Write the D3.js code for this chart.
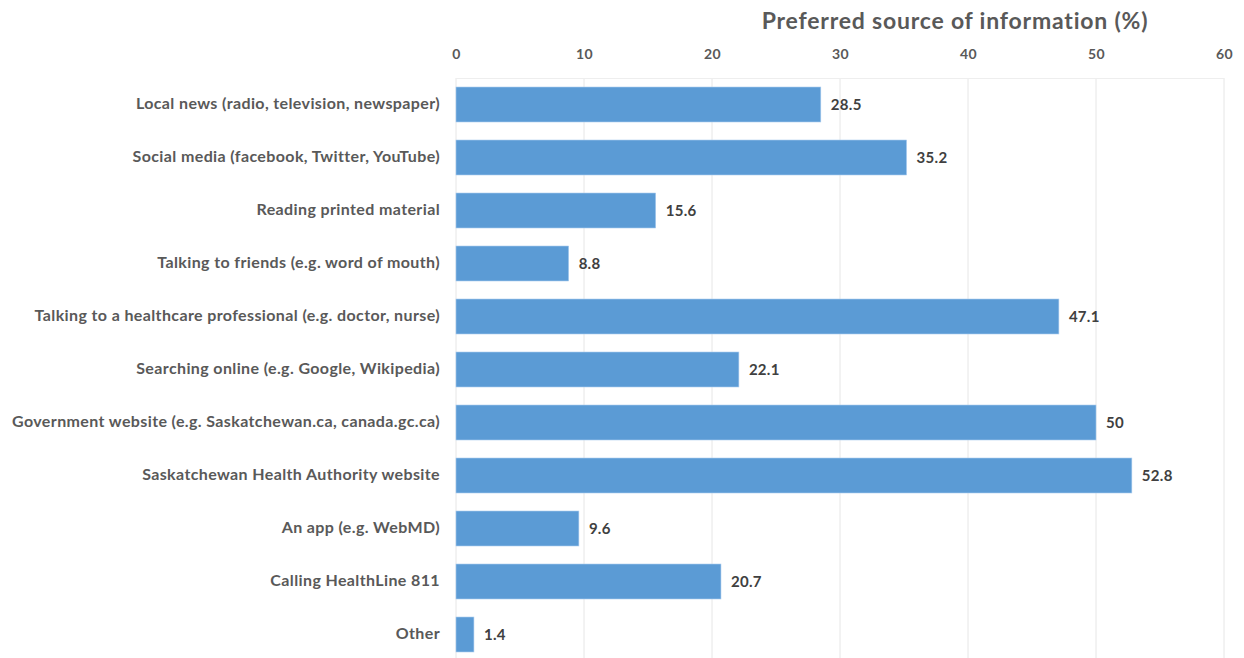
<!DOCTYPE html>
<html>
<head>
<meta charset="utf-8">
<script src="https://cdn.jsdelivr.net/npm/d3@7"></script>
<style>
  html, body { margin: 0; padding: 0; background: #fff; }
  svg { display: block; font-family: Lato, "Open Sans", sans-serif; }
</style>
</head>
<body>
<svg id="chart" width="1244" height="658"></svg>
<script>
// Survey responses: preferred source of information (%)
const categories = [
  "Local news (radio, television, newspaper)",
  "Social media (facebook, Twitter, YouTube)",
  "Reading printed material",
  "Talking to friends (e.g. word of mouth)",
  "Talking to a healthcare professional (e.g. doctor, nurse)",
  "Searching online (e.g. Google, Wikipedia)",
  "Government website (e.g. Saskatchewan.ca, canada.gc.ca)",
  "Saskatchewan Health Authority website",
  "An app (e.g. WebMD)",
  "Calling HealthLine 811",
  "Other"
];
const values = [28.5, 35.2, 15.6, 8.8, 47.1, 22.1, 50, 52.8, 9.6, 20.7, 1.4];
const tickValues = [0, 10, 20, 30, 40, 50, 60];
const axisTitle = "Preferred source of information (%)";

const svg = d3.select("#chart");
const plotLeft = 456, plotRight = 1224, plotTop = 78, plotBottom = 661;

const x = d3.scaleLinear().domain([0, 60]).range([plotLeft, plotRight]);
const y = d3.scaleBand().domain(categories).range([plotTop, plotBottom])
  .paddingInner(0.34).paddingOuter(0.17);

// vertical gridlines
svg.append("g").selectAll("line").data(tickValues).join("line")
  .attr("x1", d => x(d)).attr("x2", d => x(d))
  .attr("y1", plotTop).attr("y2", 658)
  .attr("stroke", "#e6e6e6").attr("stroke-width", 1);

svg.append("line")
  .attr("x1", plotLeft).attr("x2", plotRight).attr("y1", plotTop + 0.5).attr("y2", plotTop + 0.5)
  .attr("stroke", "#eeeeee");

// top axis
const axis = d3.axisTop(x).tickValues(tickValues).tickSize(0).tickPadding(0);
const ax = svg.append("g").attr("transform", "translate(0,59)").call(axis);
ax.select(".domain").remove();
ax.selectAll("text")
  .attr("font-family", "Lato, 'Open Sans', sans-serif")
  .attr("font-size", 14).attr("font-weight", "bold").attr("fill", "#595959")
  .attr("letter-spacing", 0.5);

// axis title
svg.append("text")
  .attr("x", 955).attr("y", 29)
  .attr("text-anchor", "middle")
  .attr("font-size", 23).attr("font-weight", "bold").attr("fill", "#595959")
  .attr("letter-spacing", 0.8)
  .text(axisTitle);

// bars
svg.append("g").selectAll("rect").data(values).join("rect")
  .attr("x", x(0))
  .attr("y", (d, i) => y(categories[i]))
  .attr("width", d => x(d) - x(0))
  .attr("height", y.bandwidth())
  .attr("fill", "#5b9bd5")
  .attr("stroke", "#a9cbee").attr("stroke-width", 0.6);

// value labels
svg.append("g").selectAll("text").data(values).join("text")
  .attr("x", d => x(d) + 10)
  .attr("y", (d, i) => y(categories[i]) + y.bandwidth() / 2)
  .attr("dy", "0.35em")
  .attr("font-size", 15).attr("font-weight", "bold").attr("fill", "#404040")
  .attr("letter-spacing", 0.3)
  .text(d => d);

// category labels
svg.append("g").selectAll("text").data(categories).join("text")
  .attr("x", 440)
  .attr("y", d => y(d) + y.bandwidth() / 2)
  .attr("dy", "0.3em")
  .attr("text-anchor", "end")
  .attr("font-size", 16).attr("font-weight", "bold").attr("fill", "#595959")
  .attr("letter-spacing", 0.38)
  .text(d => d);
</script>
</body>
</html>
